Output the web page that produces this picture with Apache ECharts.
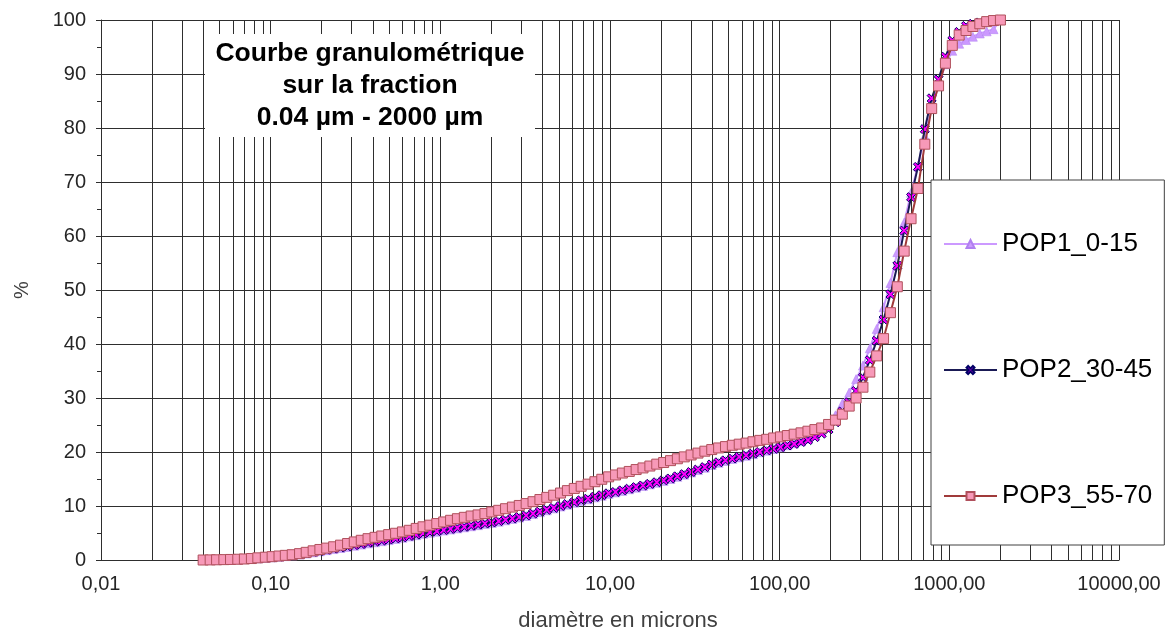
<!DOCTYPE html>
<html>
<head>
<meta charset="utf-8">
<script src="https://cdn.jsdelivr.net/npm/echarts@6/dist/echarts.min.js"></script>
<style>
html,body{margin:0;padding:0;background:#fff;}
#chart{width:1170px;height:637px;}
</style>
</head>
<body>
<div id="chart"></div>
<script>
// Particle diameters (µm) – instrument size classes
const diameters = [0.040,0.044,0.048,0.053,0.058,0.064,0.070,0.077,0.084,0.093,
 0.102,0.112,0.122,0.134,0.148,0.162,0.178,0.195,0.214,0.235,
 0.258,0.284,0.311,0.342,0.375,0.412,0.452,0.496,0.545,0.598,
 0.656,0.721,0.791,0.868,0.953,1.047,1.149,1.261,1.385,1.520,
 1.669,1.832,2.011,2.208,2.423,2.660,2.920,3.206,3.519,3.863,
 4.241,4.656,5.111,5.611,6.159,6.761,7.422,8.148,8.944,9.819,
 10.78,11.83,12.99,14.26,15.65,17.18,18.86,20.71,22.73,24.95,
 27.39,30.07,33.01,36.24,39.78,43.67,47.94,52.62,57.77,63.41,
 69.61,76.42,83.89,92.09,101.1,111.0,121.8,133.7,146.8,161.2,
 176.9,194.2,213.2,234.1,256.9,282.1,309.6,339.9,373.1,409.6,
 449.7,493.6,541.9,594.9,653.0,716.9,786.9,863.9,948.3,1041,
 1143,1255,1377,1512,1660,1822,2000];

const seriesNames = ['POP1_0-15', 'POP2_30-45', 'POP3_55-70'];

const pop1 = [0,0.02,0.04,0.06,0.08,0.11,0.16,0.22,0.30,0.40,
 0.50,0.60,0.72,0.85,1.00,1.20,1.42,1.62,1.82,2.02,
 2.22,2.42,2.65,2.85,3.08,3.28,3.48,3.68,3.90,4.10,
 4.35,4.60,4.85,5.05,5.25,5.45,5.65,5.85,6.05,6.25,
 6.45,6.65,6.85,7.10,7.35,7.60,7.85,8.15,8.50,8.85,
 9.20,9.55,9.90,10.25,10.60,10.95,11.25,11.60,11.90,12.25,
 12.50,12.80,13.10,13.40,13.70,14.00,14.30,14.65,15.00,15.40,
 15.80,16.20,16.65,17.10,17.60,18.00,18.35,18.70,19.00,19.30,
 19.60,19.95,20.25,20.55,20.90,21.25,21.60,22.00,22.45,23.20,
 24.00,25.10,26.80,29.00,31.00,33.50,36.00,39.20,42.80,46.80,
 51.30,57.00,62.50,68.00,73.00,78.50,83.50,88.00,91.80,94.30,
 95.60,96.30,96.90,97.50,97.90,98.30,100];

const pop2 = [0,0.02,0.04,0.06,0.09,0.12,0.17,0.24,0.33,0.43,
 0.52,0.63,0.76,0.88,1.05,1.25,1.50,1.70,1.90,2.10,
 2.30,2.50,2.75,2.95,3.20,3.40,3.60,3.80,4.00,4.20,
 4.45,4.70,4.95,5.15,5.35,5.55,5.75,5.95,6.15,6.35,
 6.55,6.75,6.95,7.20,7.45,7.70,7.95,8.25,8.60,8.95,
 9.30,9.65,10.00,10.35,10.70,11.05,11.35,11.70,12.00,12.35,
 12.60,12.90,13.20,13.50,13.80,14.10,14.40,14.75,15.10,15.50,
 15.90,16.30,16.75,17.20,17.70,18.10,18.45,18.80,19.10,19.40,
 19.70,20.00,20.30,20.60,20.90,21.20,21.50,21.85,22.20,22.75,
 23.40,24.20,25.50,27.50,29.20,31.30,33.80,37.00,40.60,44.50,
 49.20,54.50,61.00,67.20,72.80,79.80,85.50,89.00,93.20,96.20,
 97.80,98.90,99.30,99.55,99.75,99.90,100];

const pop3 = [0,0.02,0.04,0.07,0.10,0.14,0.19,0.27,0.40,0.52,
 0.62,0.74,0.86,0.98,1.18,1.42,1.70,1.95,2.20,2.45,
 2.75,3.05,3.35,3.65,3.95,4.20,4.45,4.70,4.95,5.20,
 5.50,5.85,6.15,6.45,6.75,7.05,7.35,7.65,7.90,8.15,
 8.35,8.60,8.90,9.20,9.50,9.80,10.10,10.45,10.80,11.20,
 11.60,12.00,12.40,12.85,13.25,13.65,14.05,14.50,14.95,15.40,
 15.75,16.10,16.40,16.75,17.05,17.40,17.75,18.05,18.40,18.75,
 19.10,19.45,19.80,20.15,20.45,20.75,21.00,21.25,21.45,21.65,
 21.90,22.15,22.35,22.60,22.80,23.05,23.30,23.55,23.85,24.15,
 24.45,25.10,25.90,27.00,28.50,30.00,32.00,34.80,37.80,41.00,
 45.80,50.60,57.20,63.20,68.80,77.00,83.60,87.80,92.00,95.30,
 97.20,98.05,98.80,99.30,99.70,99.90,100];

// Intermediate log-scale gridlines (2..9 of each decade)
const minorGridValues = [0.02,0.03,0.04,0.05,0.06,0.07,0.08,0.09,
 0.2,0.3,0.4,0.5,0.6,0.7,0.8,0.9,
 2,3,4,5,6,7,8,9,
 20,30,40,50,60,70,80,90,
 200,300,400,500,600,700,800,900,
 2000,3000,4000,5000,6000,7000,8000,9000];

const titleLines = ['Courbe granulométrique', 'sur la fraction', '0.04 µm - 2000 µm'];
const xAxisTitle = 'diamètre en microns';
const yAxisTitle = '%';

const FONT = '"Liberation Sans", Arial, sans-serif';
const GRID = '#2e2e2e';

function pairs(ys){ return diameters.map((d,i)=>[d, ys[i]]); }

const xSymbol = 'path://M0,2 L2,0 L5,3 L8,0 L10,2 L7,5 L10,8 L8,10 L5,7 L2,10 L0,8 L3,5 Z';

const chart = echarts.init(document.getElementById('chart'), null, {renderer:'canvas'});
chart.setOption({
  animation: false,
  backgroundColor: '#ffffff',
  textStyle: {fontFamily: FONT},
  grid: {left: 101, right: 51, top: 20, bottom: 77, containLabel: false},
  xAxis: {
    type: 'log', logBase: 10, min: 0.01, max: 10000, interval: 1,
    name: xAxisTitle, nameLocation: 'middle', nameGap: 50,
    nameTextStyle: {fontFamily: FONT, fontSize: 22, color: '#404040', padding: [0, 0, 0, 16]},
    axisLine: {show: true, lineStyle: {color: GRID, width: 1}},
    axisTick: {show: false},
    axisLabel: {fontFamily: FONT, fontSize: 20, color: '#262626', margin: 14,
      formatter: v => Number(v).toFixed(2).replace('.', ',')},
    splitLine: {show: true, lineStyle: {color: GRID, width: 1}},
    minorTick: {show: false}, minorSplitLine: {show: false}
  },
  yAxis: {
    type: 'value', min: 0, max: 100, interval: 10,
    name: yAxisTitle, nameLocation: 'middle', nameGap: 69, nameRotate: 90,
    nameTextStyle: {fontFamily: FONT, fontSize: 20, color: '#404040'},
    axisLine: {show: true, lineStyle: {color: GRID, width: 1}},
    axisTick: {show: true, length: 5, lineStyle: {color: GRID}},
    minorTick: {show: true, splitNumber: 2, length: 4, lineStyle: {color: GRID}},
    axisLabel: {fontFamily: FONT, fontSize: 20, color: '#262626', margin: 15},
    splitLine: {show: true, lineStyle: {color: GRID, width: 1}}
  },
  legend: {
    data: seriesNames,
    orient: 'vertical', left: 931, top: 180,
    padding: [51, 12, 36, 12], itemGap: 100,
    itemWidth: 53, itemHeight: 10,
    backgroundColor: '#ffffff', borderColor: '#404040', borderWidth: 1, borderRadius: 0,
    textStyle: {fontFamily: FONT, fontSize: 26, color: '#000000'},
    z: 20
  },
  graphic: [{
    type: 'group', z: 50,
    children: [
      {type: 'rect', shape: {x: 205, y: 34, width: 330, height: 103}, style: {fill: '#ffffff'}, z: 50},
      {type: 'text', x: 370, y: 86, z: 51,
        style: {text: titleLines.join('\n'), font: 'bold 26.5px ' + FONT, fill: '#000000',
          textAlign: 'center', textVerticalAlign: 'middle', lineHeight: 32}}
    ]
  }],
  series: [
    {
      name: 'grid', type: 'line', data: [], silent: true, z: 1,
      markLine: {silent: true, symbol: 'none', label: {show: false},
        lineStyle: {color: GRID, width: 1, type: 'solid'},
        emphasis: {disabled: true},
        data: minorGridValues.map(v => ({xAxis: v}))}
    },
    {
      name: seriesNames[0], type: 'line', data: pairs(pop1), z: 3,
      symbol: 'triangle', symbolSize: 9, showAllSymbol: true,
      lineStyle: {color: '#CC99FF', width: 2},
      itemStyle: {color: '#CC99FF', borderColor: '#B080F0', borderWidth: 0.5}
    },
    {
      name: seriesNames[1], type: 'line', data: pairs(pop2), z: 4,
      symbol: xSymbol, symbolSize: 9, showAllSymbol: true,
      lineStyle: {color: '#1A1A55', width: 2},
      itemStyle: {color: '#FF00FF', borderColor: '#000066', borderWidth: 1}
    },
    {
      name: seriesNames[2], type: 'line', data: pairs(pop3), z: 5,
      symbol: 'rect', symbolSize: 10, showAllSymbol: true,
      lineStyle: {color: '#A03A3A', width: 2},
      itemStyle: {color: '#F799B8', borderColor: '#B0505C', borderWidth: 1}
    }
  ]
});
</script>
</body>
</html>
